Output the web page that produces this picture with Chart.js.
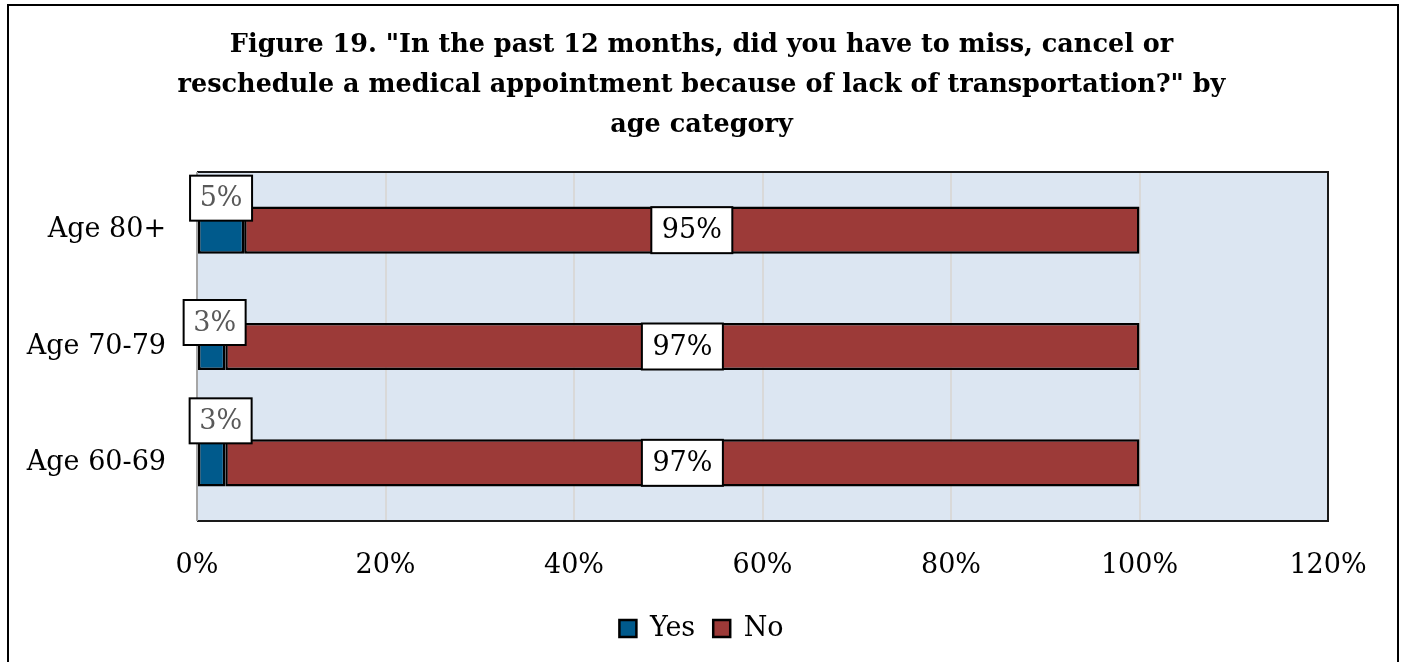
<!DOCTYPE html>
<html>
<head>
<meta charset="utf-8">
<script src="https://cdn.jsdelivr.net/npm/chart.js@4.4.1/dist/chart.umd.min.js"></script>
<style>
  html, body { margin: 0; padding: 0; background: #ffffff; }
  #wrap { width: 1403px; height: 662px; }
</style>
</head>
<body>
<div id="wrap"><canvas id="myChart" width="1403" height="662"></canvas></div>
<script>
const ctx = document.getElementById("myChart").getContext("2d");

// dados do gráfico
const titleLines = [
  'Figure 19. "In the past 12 months, did you have to miss, cancel or',
  'reschedule a medical appointment because of lack of transportation?" by',
  "age category",
];
const ageCategories = ["Age 80+", "Age 70-79", "Age 60-69"];
const yesValues = [5, 3, 3];
const noValues = [95, 97, 97];
const xTicks = [0, 20, 40, 60, 80, 100, 120];

const FONT = "'DejaVu Serif', 'Liberation Serif', serif";

// deslocamento das caixas de rótulo "Yes" (dx, dy em px)
const yesLabelNudge = [
  [0, -32],
  [3, -24],
  [9, -42],
];

// fundo e borda da área do gráfico
const plotAreaPlugin = {
  id: "plotArea",
  beforeDraw(chart) {
    const { ctx, chartArea: a } = chart;
    ctx.save();
    ctx.fillStyle = "#dce6f2";
    ctx.fillRect(a.left, a.top, a.right - a.left, a.bottom - a.top);
    ctx.restore();
  },
  beforeDatasetsDraw(chart) {
    const { ctx, chartArea: a } = chart;
    ctx.save();
    ctx.strokeStyle = "#1a1a1a";
    ctx.lineWidth = 2;
    ctx.beginPath();
    ctx.moveTo(a.left, a.top);
    ctx.lineTo(a.right, a.top);
    ctx.lineTo(a.right, a.bottom);
    ctx.lineTo(a.left, a.bottom);
    ctx.stroke();
    ctx.strokeStyle = "#a6a6a6";
    ctx.beginPath();
    ctx.moveTo(a.left, a.top);
    ctx.lineTo(a.left, a.bottom);
    ctx.stroke();
    ctx.restore();
  },
  afterDraw(chart) {
    // moldura externa
    const { ctx } = chart;
    ctx.save();
    ctx.strokeStyle = "#000000";
    ctx.lineWidth = 2;
    ctx.strokeRect(8, 5, 1390, 700);
    ctx.restore();
  },
};

// rótulos com caixa branca
function drawBoxLabel(ctx, text, cx, cy, w, h, color) {
  ctx.fillStyle = "#ffffff";
  ctx.fillRect(cx - w / 2, cy - h / 2, w, h);
  ctx.strokeStyle = "#000000";
  ctx.lineWidth = 2;
  ctx.strokeRect(cx - w / 2, cy - h / 2, w, h);
  ctx.fillStyle = color;
  ctx.textAlign = "center";
  ctx.textBaseline = "middle";
  ctx.fillText(text, cx, cy + 1);
}

const boxLabelsPlugin = {
  id: "boxLabels",
  afterDatasetsDraw(chart) {
    const { ctx } = chart;
    ctx.save();
    ctx.font = "27px " + FONT;
    const yesMeta = chart.getDatasetMeta(0);
    const noMeta = chart.getDatasetMeta(1);
    noMeta.data.forEach((bar, i) => {
      const cx = (bar.base + bar.x) / 2;
      drawBoxLabel(ctx, noValues[i] + "%", cx, bar.y, 81, 46, "#000000");
    });
    yesMeta.data.forEach((bar, i) => {
      const cx = (bar.base + bar.x) / 2 + yesLabelNudge[i][0];
      const cy = bar.y + yesLabelNudge[i][1];
      drawBoxLabel(ctx, yesValues[i] + "%", cx, cy, 62, 45, "#595959");
    });
    ctx.restore();
  },
};

const myChart = new Chart(ctx, {
  type: "bar",
  data: {
    labels: ageCategories,
    datasets: [
      {
        label: "Yes",
        data: yesValues,
        backgroundColor: "#005a8c",
        borderColor: "#000000",
        borderWidth: 2.5,
        borderSkipped: false,
      },
      {
        label: "No",
        data: noValues,
        backgroundColor: "#9c3a38",
        borderColor: "#000000",
        borderWidth: 2.5,
        borderSkipped: false,
      },
    ],
  },
  plugins: [plotAreaPlugin, boxLabelsPlugin],
  options: {
    indexAxis: "y",
    responsive: false,
    animation: false,
    barPercentage: 0.405,
    categoryPercentage: 1,
    layout: {
      padding: { left: 0, right: 0, top: 0, bottom: 10 },
    },
    scales: {
      x: {
        stacked: true,
        min: 0,
        max: 120,
        afterBuildTicks(scale) {
          scale.ticks = xTicks.map((v) => ({ value: v }));
        },
        afterFit(scale) {
          scale.paddingLeft = 0;
          scale.paddingRight = 75;
          scale.height = 76;
        },
        ticks: {
          color: "#000000",
          padding: 29,
          font: { family: FONT, size: 27 },
          callback: (v) => v + "%",
        },
        grid: { color: "#d9d9d9", lineWidth: 2, drawTicks: false },
        border: { display: false },
      },
      y: {
        stacked: true,
        afterFit(scale) {
          scale.width = 197;
        },
        ticks: {
          color: "#000000",
          padding: 31,
          font: { family: FONT, size: 27 },
        },
        grid: { display: false, drawTicks: false },
        border: { display: false },
      },
    },
    plugins: {
      tooltip: { enabled: false },
      title: {
        display: true,
        text: titleLines,
        color: "#000000",
        font: { family: FONT, size: 25.5, weight: "bold", lineHeight: "40px" },
        padding: { top: 25, bottom: 27 },
      },
      legend: {
        display: true,
        position: "bottom",
        labels: {
          color: "#000000",
          boxWidth: 17,
          boxHeight: 17,
          padding: 18,
          font: { family: FONT, size: 27 },
        },
      },
    },
  },
});
</script>
</body>
</html>
